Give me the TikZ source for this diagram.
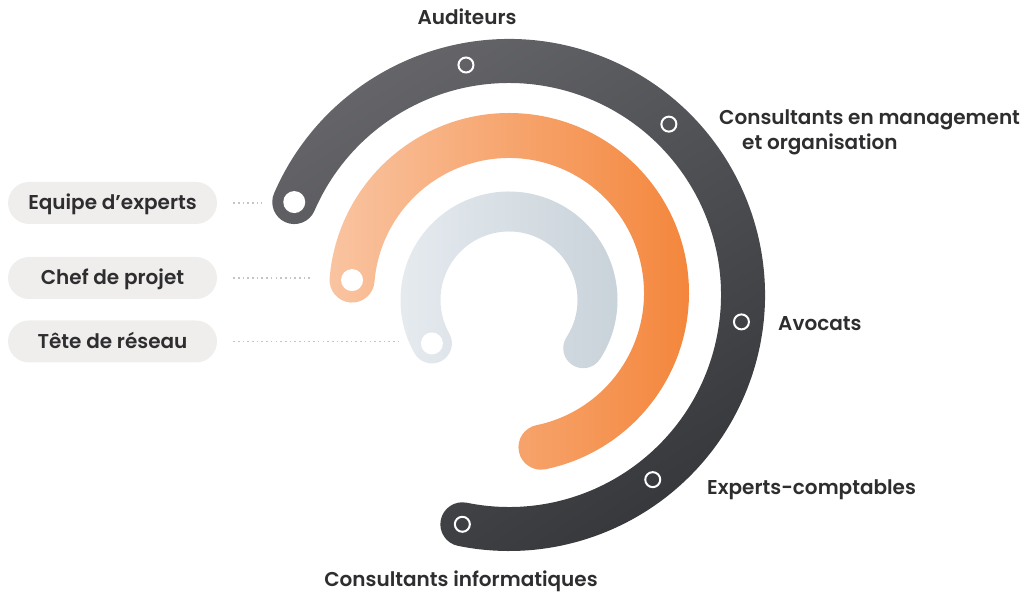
\documentclass[tikz,border=0pt]{standalone}
\usepackage{fontspec}
\usetikzlibrary{shadings}
\setmainfont{Poppins}[BoldFont={Poppins SemiBold}]
\definecolor{dkA}{HTML}{6E6E73}
\definecolor{dkB}{HTML}{56575B}
\definecolor{dkC}{HTML}{45464A}
\definecolor{dkD}{HTML}{2B2D31}
\definecolor{orA}{HTML}{F9C4A1}
\definecolor{orB}{HTML}{F4853A}
\definecolor{grA}{HTML}{E7ECF0}
\definecolor{grB}{HTML}{C8D2D9}
\definecolor{pillbg}{HTML}{EFEEEC}
\definecolor{txt}{HTML}{2E2E30}
\definecolor{dotc}{HTML}{C4C4C4}
\begin{document}
\begin{tikzpicture}[x=1pt,y=1pt,
  lbl/.style={font=\fontsize{20}{25}\selectfont\bfseries, text=txt, inner sep=0pt},
  pill/.style={fill=pillbg, rounded corners=21pt, minimum width=209pt, minimum height=42pt,
    inner sep=0pt, font=\fontsize{20}{25}\selectfont\bfseries, text=txt, text height=14pt, text depth=0pt},
  dotline/.style={draw=dotc, line width=1.8pt, dash pattern=on 1.6pt off 3.1pt},
  hole/.style={circle, fill=white, minimum size=22pt, inner sep=0pt},
  ringdot/.style={circle, draw=white, line width=2pt, minimum size=15pt, inner sep=0pt},
]
\useasboundingbox (0,0) rectangle (1027,593);

\coordinate (Cd) at (509,298);
\coordinate (Co) at (509,300);
\coordinate (Cg) at (509,293);

% dark ring
\shade[upper left=dkA, upper right=dkB, lower left=dkC, lower right=dkD]
 ([shift={(156.6:256)}]Cd) arc[start angle=156.6,end angle=-101.5,radius=256]
 arc[start angle=-101.5,end angle=-281.5,radius=22]
 arc[start angle=-101.5,end angle=156.6,radius=212]
 arc[start angle=336.6,end angle=156.6,radius=22] -- cycle;

% orange ring
\shade[left color=orA, right color=orB]
 ([shift={(175.3:180)}]Co) arc[start angle=175.3,end angle=-78.3,radius=180]
 arc[start angle=-78.3,end angle=-258.3,radius=22.5]
 arc[start angle=-78.3,end angle=175.3,radius=135]
 arc[start angle=355.3,end angle=175.3,radius=22.5] -- cycle;

% grey ring
\shade[left color=grA, right color=grB]
 ([shift={(209.4:108.5)}]Cg) arc[start angle=209.4,end angle=-33,radius=108.5]
 arc[start angle=-33,end angle=-213,radius=20]
 arc[start angle=-33,end angle=209.4,radius=68.5]
 arc[start angle=389.4,end angle=209.4,radius=20] -- cycle;

% end holes
\node[hole] (eD) at ([shift={(156.6:234)}]Cd) {};
\node[hole] (eO) at ([shift={(175.3:157.5)}]Co) {};
\node[hole] (eG) at ([shift={(209.4:88.5)}]Cg) {};

% ring dots
\node[ringdot] (r1) at ([shift={(100.6:234)}]Cd) {};
\node[ringdot] (r2) at ([shift={(46.9:234)}]Cd) {};
\node[ringdot] (r3) at ([shift={(-6.6:234)}]Cd) {};
\node[ringdot] (r4) at ([shift={(-52.1:234)}]Cd) {};
\node[ringdot] (r5) at ([shift={(-101.5:234)}]Cd) {};

% labels
\node[lbl] (tA) at (467,576) {Auditeurs};
\node[lbl, anchor=west, align=left] (tC) at (719,460.5) {Consultants en management\\\hspace{23pt}et organisation};
\node[lbl, anchor=west] (tV) at (778,269) {Avocats};
\node[lbl, anchor=west] (tE) at (707,103) {Experts-comptables};
\node[lbl] (tI) at (461,12) {Consultants informatiques};

% pills
\node[pill] (p1) at (112.5,390) {Equipe d’experts};
\node[pill] (p2) at (112.5,315) {Chef de projet};
\node[pill] (p3) at (112.5,251.5) {Tête de réseau};

\coordinate (k1) at (262,390);
\coordinate (k2) at (313,315);
\coordinate (k3) at (400,251.5);
\draw[dotline] ([xshift=16pt]p1.east) -- (k1);
\draw[dotline] ([xshift=16pt]p2.east) -- (k2);
\draw[dotline] ([xshift=16pt]p3.east) -- (k3);
\end{tikzpicture}
\end{document}
